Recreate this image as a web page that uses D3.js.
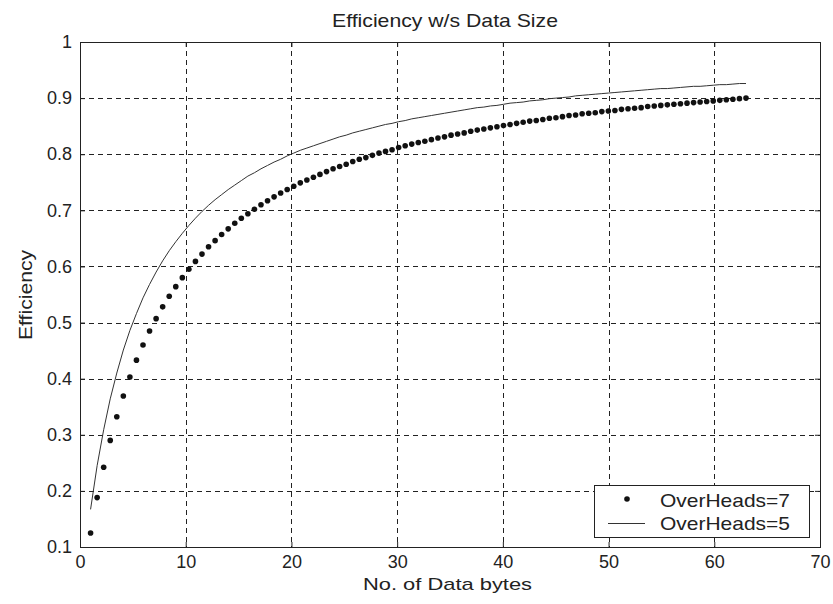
<!DOCTYPE html>
<html>
<head>
<meta charset="utf-8">
<script src="https://cdn.jsdelivr.net/npm/d3@7"></script>
<style>
body { margin: 0; background: #fff; }
svg text { font-family: "Liberation Sans", Arial, sans-serif; fill: #222; }
</style>
</head>
<body>
<svg id="chart" width="833" height="604"></svg>
<script>
// data bytes (x) sampled along the curve
var dataBytes = [1, 1.62, 2.24, 2.86, 3.48, 4.1, 4.72, 5.34, 5.96, 6.58, 7.2, 7.82, 8.44, 9.06, 9.68,
	10.3, 10.92, 11.54, 12.16, 12.78, 13.4, 14.02, 14.64, 15.26, 15.88, 16.5, 17.12, 17.74, 18.36, 18.98,
	19.6, 20.22, 20.84, 21.46, 22.08, 22.7, 23.32, 23.94, 24.56, 25.18, 25.8, 26.42, 27.04, 27.66, 28.28,
	28.9, 29.52, 30.14, 30.76, 31.38, 32, 32.62, 33.24, 33.86, 34.48, 35.1, 35.72, 36.34, 36.96, 37.58,
	38.2, 38.82, 39.44, 40.06, 40.68, 41.3, 41.92, 42.54, 43.16, 43.78, 44.4, 45.02, 45.64, 46.26, 46.88,
	47.5, 48.12, 48.74, 49.36, 49.98, 50.6, 51.22, 51.84, 52.46, 53.08, 53.7, 54.32, 54.94, 55.56, 56.18,
	56.8, 57.42, 58.04, 58.66, 59.28, 59.9, 60.52, 61.14, 61.76, 62.38, 63];

// OverHeads=7 (dots)
var eff7 = [0.125, 0.188, 0.242, 0.290, 0.332, 0.369, 0.403, 0.433, 0.460, 0.485, 0.507, 0.528, 0.547, 0.564, 0.580,
	0.595, 0.609, 0.622, 0.635, 0.646, 0.657, 0.667, 0.677, 0.686, 0.694, 0.702, 0.710, 0.717, 0.724, 0.731,
	0.737, 0.743, 0.749, 0.754, 0.759, 0.764, 0.769, 0.774, 0.778, 0.782, 0.787, 0.791, 0.794, 0.798, 0.802,
	0.805, 0.808, 0.812, 0.815, 0.818, 0.821, 0.823, 0.826, 0.829, 0.831, 0.834, 0.836, 0.838, 0.841, 0.843,
	0.845, 0.847, 0.849, 0.851, 0.853, 0.855, 0.857, 0.859, 0.860, 0.862, 0.864, 0.865, 0.867, 0.869, 0.870,
	0.872, 0.873, 0.874, 0.876, 0.877, 0.878, 0.880, 0.881, 0.882, 0.883, 0.885, 0.886, 0.887, 0.888, 0.889,
	0.890, 0.891, 0.892, 0.893, 0.894, 0.895, 0.896, 0.897, 0.898, 0.899, 0.900];

// OverHeads=5 (line)
var eff5 = [0.167, 0.245, 0.309, 0.364, 0.410, 0.451, 0.486, 0.516, 0.544, 0.568, 0.590, 0.610, 0.628, 0.644, 0.659,
	0.673, 0.686, 0.698, 0.709, 0.719, 0.728, 0.737, 0.745, 0.753, 0.761, 0.767, 0.774, 0.780, 0.786, 0.791,
	0.797, 0.802, 0.807, 0.811, 0.815, 0.819, 0.823, 0.827, 0.831, 0.834, 0.838, 0.841, 0.844, 0.847, 0.850,
	0.853, 0.855, 0.858, 0.860, 0.863, 0.865, 0.867, 0.869, 0.871, 0.873, 0.875, 0.877, 0.879, 0.881, 0.883,
	0.884, 0.886, 0.887, 0.889, 0.891, 0.892, 0.893, 0.895, 0.896, 0.897, 0.899, 0.900, 0.901, 0.902, 0.904,
	0.905, 0.906, 0.907, 0.908, 0.909, 0.910, 0.911, 0.912, 0.913, 0.914, 0.915, 0.916, 0.917, 0.917, 0.918,
	0.919, 0.920, 0.921, 0.921, 0.922, 0.923, 0.924, 0.924, 0.925, 0.926, 0.926];

var xTicks = [0, 10, 20, 30, 40, 50, 60, 70];
var yTicks = [0.1, 0.2, 0.3, 0.4, 0.5, 0.6, 0.7, 0.8, 0.9, 1];
var seriesNames = ["OverHeads=7", "OverHeads=5"];

var svg = d3.select("#chart");
var margin = {top: 42, right: 13, bottom: 57, left: 80};
var width = 833, height = 604;
var x0 = margin.left, x1 = width - margin.right;
var y0 = height - margin.bottom, y1 = margin.top;

var xScale = d3.scaleLinear().domain([0, 70]).range([x0, x1]);
var yScale = d3.scaleLinear().domain([0.1, 1]).range([y0, y1]);

//plot area
svg.append("rect")
	.attr("x", x0).attr("y", y1)
	.attr("width", x1 - x0).attr("height", y0 - y1)
	.attr("fill", "#fff");

//grid
var grid = svg.append("g").attr("stroke", "#222").attr("stroke-width", 1)
	.attr("stroke-dasharray", "5,4");
grid.selectAll(".gx").data(xTicks.slice(1, -1)).enter().append("line")
	.attr("x1", function(d){ return Math.round(xScale(d)) + 0.5; })
	.attr("x2", function(d){ return Math.round(xScale(d)) + 0.5; })
	.attr("y1", y1).attr("y2", y0);
grid.selectAll(".gy").data(yTicks.slice(1, -1)).enter().append("line")
	.attr("y1", function(d){ return Math.round(yScale(d)) + 0.5; })
	.attr("y2", function(d){ return Math.round(yScale(d)) + 0.5; })
	.attr("x1", x0).attr("x2", x1);

//axes, ticks inward
var fmtY = function(d){ return d === 1 ? "1" : d3.format(".1f")(d); };
var axes = [
	{g: d3.axisBottom(xScale).tickValues(xTicks).tickSizeInner(-5).tickSizeOuter(0).tickPadding(8), t: "translate(0," + y0 + ")"},
	{g: d3.axisTop(xScale).tickValues(xTicks).tickSizeInner(-5).tickSizeOuter(0).tickFormat(""), t: "translate(0," + y1 + ")"},
	{g: d3.axisLeft(yScale).tickValues(yTicks).tickSizeInner(-5).tickSizeOuter(0).tickPadding(8).tickFormat(fmtY), t: "translate(" + x0 + ",0)"},
	{g: d3.axisRight(yScale).tickValues(yTicks).tickSizeInner(-5).tickSizeOuter(0).tickFormat(""), t: "translate(" + x1 + ",0)"}
];
axes.forEach(function(a){
	var g = svg.append("g").attr("transform", a.t).call(a.g);
	g.select(".domain").remove();
	g.selectAll("line").attr("stroke", "#222");
	g.selectAll("text").attr("font-size", 18).attr("fill", "#222")
		.attr("font-family", "Liberation Sans, Arial, sans-serif");
});

svg.append("rect")
	.attr("x", x0 + 0.5).attr("y", y1 + 0.5)
	.attr("width", x1 - x0).attr("height", y0 - y1)
	.attr("fill", "none").attr("stroke", "#222").attr("stroke-width", 1);

//OverHeads=5 line
var line = d3.line()
	.x(function(d, i){ return xScale(dataBytes[i]); })
	.y(function(d){ return yScale(d); });
svg.append("path")
	.datum(eff5)
	.attr("d", line)
	.attr("fill", "none").attr("stroke", "#333").attr("stroke-width", 1);

//OverHeads=7 dots
svg.append("g").selectAll("circle").data(eff7).enter().append("circle")
	.attr("cx", function(d, i){ return xScale(dataBytes[i]); })
	.attr("cy", function(d){ return yScale(d); })
	.attr("r", 2.8)
	.attr("fill", "#111");

//legend
var lg = svg.append("g").attr("transform", "translate(594,485)");
lg.append("rect").attr("x", 0.5).attr("y", 0.5).attr("width", 215).attr("height", 52)
	.attr("fill", "#fff").attr("stroke", "#222");
lg.append("circle").attr("cx", 33).attr("cy", 14).attr("r", 2.8).attr("fill", "#111");
lg.append("line").attr("x1", 14).attr("x2", 51).attr("y1", 38.5).attr("y2", 38.5)
	.attr("stroke", "#333");
lg.selectAll("text").data(seriesNames).enter().append("text")
	.attr("x", 66).attr("y", function(d, i){ return 21.5 + i * 23.5; })
	.attr("font-size", 19)
	.attr("textLength", 130).attr("lengthAdjust", "spacingAndGlyphs")
	.text(function(d){ return d; });

//titles
svg.append("text")
	.attr("x", 445).attr("y", 27)
	.attr("text-anchor", "middle").attr("font-size", 19)
	.attr("textLength", 226).attr("lengthAdjust", "spacingAndGlyphs")
	.text("Efficiency w/s Data Size");
svg.append("text")
	.attr("x", 447.5).attr("y", 590)
	.attr("text-anchor", "middle").attr("font-size", 17)
	.attr("textLength", 169).attr("lengthAdjust", "spacingAndGlyphs")
	.text("No. of Data bytes");
svg.append("text")
	.attr("transform", "translate(32,295)rotate(-90)")
	.attr("text-anchor", "middle").attr("font-size", 18)
	.attr("textLength", 90).attr("lengthAdjust", "spacingAndGlyphs")
	.text("Efficiency");
</script>
</body>
</html>
